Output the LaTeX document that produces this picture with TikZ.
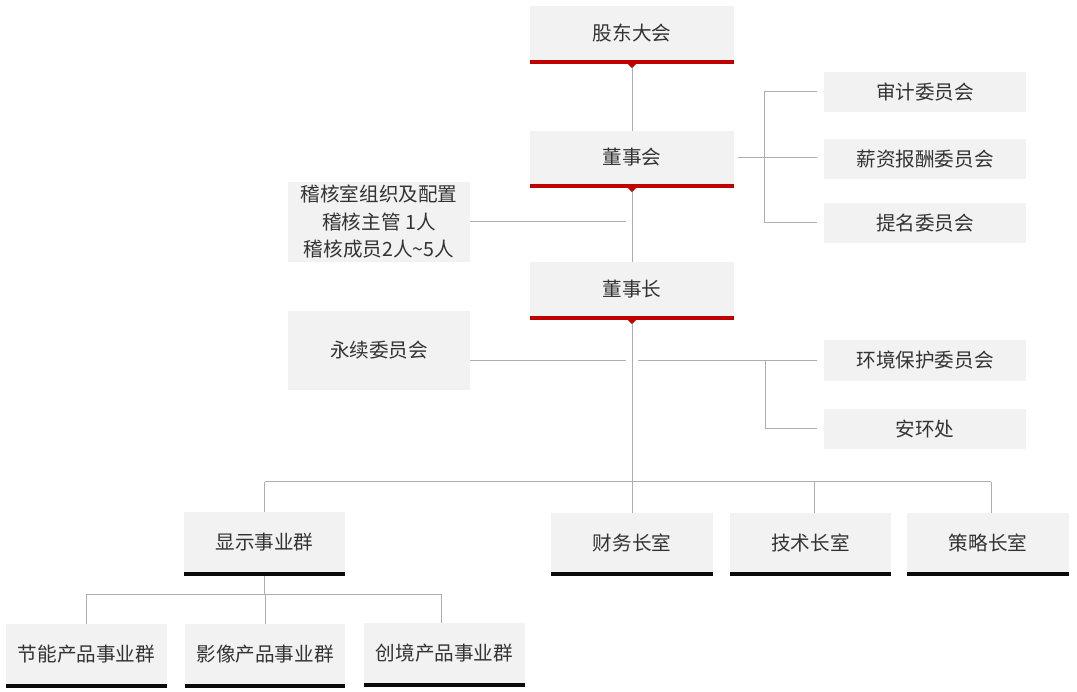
\documentclass[tikz,border=0pt]{standalone}
\usepackage{fontspec}
\setmainfont{Noto Sans CJK SC}
\usetikzlibrary{calc}
\definecolor{boxgray}{HTML}{F2F2F2}
\definecolor{barred}{HTML}{C00000}
\definecolor{barblack}{HTML}{0A0A0A}
\definecolor{linegray}{HTML}{AEAEAE}
\definecolor{txt}{HTML}{333333}
\begin{document}
\begin{tikzpicture}[x=1pt,y=-1pt,
  box/.style={fill=boxgray, inner sep=0pt, text=txt, align=center,
    font=\fontsize{19.6}{27.5}\selectfont},
  conn/.style={draw=linegray, line width=1pt},
  redbar/.style={fill=barred},
  blackbar/.style={fill=barblack}]
\useasboundingbox (0,0) rectangle (1077,692);
% top chain
\node[box, minimum width=204pt, minimum height=54pt] (gd)  at (632,33)    {股东大会};
\node[box, minimum width=204pt, minimum height=53pt] (dsh) at (632,157.5) {董事会};
\node[box, minimum width=204pt, minimum height=54pt] (dsz) at (632,289)   {董事长};
% left boxes
\node[box, minimum width=182pt, minimum height=80pt] (jh) at (379,222) {稽核室组织及配置\\稽核主管 1人\\稽核成员2人\textasciitilde5人};
\node[box, minimum width=182pt, minimum height=79pt] (yx) at (379,350.5) {永续委员会};
% right committees
\node[box, minimum width=202pt, minimum height=40pt] (sj) at (925,92)  {审计委员会};
\node[box, minimum width=202pt, minimum height=40pt] (xz) at (925,159) {薪资报酬委员会};
\node[box, minimum width=202pt, minimum height=40pt] (tm) at (925,223) {提名委员会};
\node[box, minimum width=202pt, minimum height=41pt] (hj) at (925,360.5) {环境保护委员会};
\node[box, minimum width=202pt, minimum height=40pt] (ah) at (925,429) {安环处};
% lower row
\node[box, minimum width=161pt, minimum height=60pt] (xs) at (264.5,542) {显示事业群};
\node[box, minimum width=162pt, minimum height=59pt] (cw) at (632,542.5) {财务长室};
\node[box, minimum width=161pt, minimum height=59pt] (js) at (810.5,542.5) {技术长室};
\node[box, minimum width=162pt, minimum height=59pt] (cl) at (988,542.5) {策略长室};
% bottom row
\node[box, minimum width=161pt, minimum height=60pt] (jn)  at (86.5,654) {节能产品事业群};
\node[box, minimum width=160pt, minimum height=60pt] (yxc) at (265,654)  {影像产品事业群};
\node[box, minimum width=161pt, minimum height=60pt] (cj)  at (444.5,653) {创境产品事业群};
% bars
\foreach \n in {gd,dsh,dsz}{
  \fill[redbar] (\n.south west) rectangle ($(\n.south east)+(0,4)$);
  \fill[redbar] ($(\n.south)+(-4,4)$) -- ($(\n.south)+(4,4)$) -- ($(\n.south)+(0,8)$) -- cycle;
}
\foreach \n in {xs,cw,js,cl,jn,yxc,cj}{
  \fill[blackbar] (\n.south west) rectangle ($(\n.south east)+(0,4)$);
}
% helper coordinates
\coordinate (lgap) at (626,0);
\coordinate (rgap) at (638,0);
\coordinate (bx1) at (764,0);
\coordinate (bx2) at (765,0);
\coordinate (cend) at (817,0);
\coordinate (bus) at (0,482);
\coordinate (sbus) at (0,594);
% main chain
\draw[conn] ($(gd.south)+(0,8)$) -- (dsh.north);
\draw[conn] ($(dsh.south)+(0,8)$) -- (dsz.north);
\draw[conn] ($(dsz.south)+(0,8)$) -- (dsz.south |- bus);
% audit office
\draw[conn] (jh.east) -- (jh.east -| lgap);
% board committees
\draw[conn] ($(dsh.east)+(4,0)$) -- (dsh.east -| cend);
\draw[conn] (sj.west -| cend) -- (sj.west -| bx1) -- (tm.west -| bx1) -- (tm.west -| cend);
% sustainability
\draw[conn] (yx.east |- hj.west) -- (hj.west -| lgap);
\draw[conn] (hj.west -| rgap) -- (hj.west -| cend);
\draw[conn] (hj.west -| bx2) -- (ah.west -| bx2) -- (ah.west -| cend);
% bus to lower row
\draw[conn] (xs.north |- bus) -- ($(cl.north |- bus)+(3,0)$);
\draw[conn] (xs.north |- bus) -- (xs.north);
\draw[conn] (cw.north |- bus) -- (cw.north);
\draw[conn] ($(js.north |- bus)+(4,0)$) -- ($(js.north)+(4,0)$);
\draw[conn] ($(cl.north |- bus)+(3,0)$) -- ($(cl.north)+(3,0)$);
% sub-bus
\draw[conn] ($(xs.south)+(0,4)$) -- (xs.south |- sbus);
\draw[conn] (jn.north) -- (jn.north |- sbus) -- ($(cj.north |- sbus)+(-3,0)$) -- ($(cj.north)+(-3,0)$);
\draw[conn] (yxc.north |- sbus) -- (yxc.north);
\end{tikzpicture}
\end{document}
